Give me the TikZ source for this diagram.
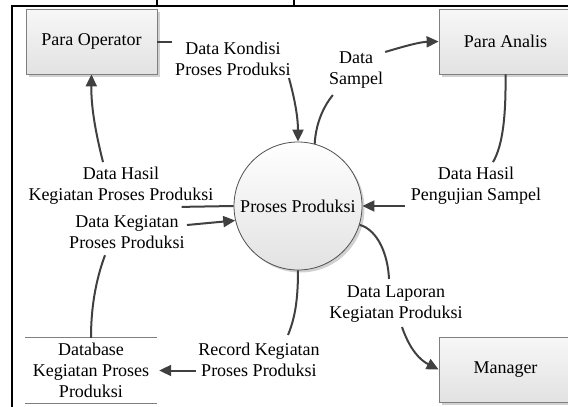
\documentclass[tikz,border=0pt]{standalone}
\usepackage{fontspec}
\setmainfont{Liberation Serif}
\usetikzlibrary{arrows.meta,shadows}

\definecolor{linegray}{HTML}{404040}
\definecolor{boxedge}{HTML}{7F7F7F}
\definecolor{circedge}{HTML}{505050}
\definecolor{boxlight}{HTML}{F7F7F7}
\definecolor{boxdark}{HTML}{E2E2E2}

\begin{document}
\begin{tikzpicture}[x=1pt,y=-1pt,
  font=\fontsize{18}{21}\selectfont,
  flow/.style={draw=linegray, line width=2pt, -{Triangle[length=12pt,width=11pt]}},
  flowline/.style={draw=linegray, line width=2pt},
  shade/.style={drop shadow={shadow xshift=2.5pt, shadow yshift=-2.5pt, fill=black!30, opacity=0.6}},
  entity/.style={draw=boxedge, line width=0.8pt, top color=boxlight, bottom color=boxdark,
    shade, minimum height=65pt, inner sep=0pt},
  process/.style={circle, draw=circedge, line width=0.8pt, top color=white, bottom color=boxdark,
    shade, minimum size=128pt, inner sep=0pt},
  lbl/.style={align=center, inner sep=2pt}]

\useasboundingbox (0,0) rectangle (568,407);

% table frame around the diagram
\draw[line width=2.2pt] (12,407) -- (12,6) -- (570,6);
\draw[line width=2pt] (157,0) -- (157,6);
\draw[line width=2pt] (294,0) -- (294,6);

% external entities, process and data store
\node[entity, minimum width=131pt] (op) at (91.5,41.5) {Para Operator};
\node[entity, minimum width=133pt] (ana) at (505.5,41.5) {Para Analis};
\node[entity, minimum width=133pt] (man) at (505.5,369.5) {Manager};
\node[process] (proc) at (298,206) {Proses Produksi};
\node[align=center, inner sep=0pt, minimum width=132pt, minimum height=65pt] (db) at (91,370.5)
  {Database\\Kegiatan Proses\\Produksi};
\draw[boxedge, line width=1.2pt] (db.north west) -- (db.north east);
\draw[boxedge, line width=1.2pt] (db.south west) -- (db.south east);

% flow labels
\node[lbl] (kond) at (233,59) {Data Kondisi\\Proses Produksi};
\node[lbl] (samp) at (356,70.5) {Data\\Sampel};
\node[lbl] (hasil2) at (476,186) {Data Hasil\\Pengujian Sampel};
\node[lbl] (hasil1) at (121,186) {Data Hasil\\Kegiatan Proses Produksi};
\node[lbl] (keg) at (127,232.5) {Data Kegiatan\\Proses Produksi};
\node[lbl] (rec) at (259,360) {Record Kegiatan\\Proses Produksi};
\node[lbl] (lap) at (396,304.5) {Data Laporan\\Kegiatan Produksi};

% Para Operator -> Proses Produksi
\draw[flowline] (op.east) -- ([xshift=-1pt]kond.west |- op.east);
\draw[flow] ([xshift=-4pt]kond.south east) .. controls (295,100) and (298,118) .. (proc.north);

% Proses Produksi -> Para Analis
\draw[flowline] (proc.75) .. controls (316,122) and (324,106) .. ([xshift=6pt,yshift=-4pt]samp.south west);
\draw[flow] ([yshift=-2pt]samp.north east) .. controls (405,46) and (420,42) .. (ana.west);

% Para Analis -> Proses Produksi
\draw[flowline] (ana.south) .. controls (506,115) and (503,145) .. ([xshift=17pt,yshift=3pt]hasil2.north);
\draw[flow, shorten <=4pt] (hasil2.west |- proc.east) -- (proc.east);

% Proses Produksi -> Para Operator
\draw[flowline] (proc.west) -- ([xshift=-34pt]hasil1.south east);
\draw[flow] ([xshift=-18pt,yshift=3pt]hasil1.north) .. controls (97,138) and (91,110) .. (op.south);

% Database -> Proses Produksi
\draw[flowline] (db.north) .. controls (91,310) and (95,282) .. ([xshift=-22pt,yshift=-4pt]keg.south);
\draw[flow] ([yshift=7.5pt]keg.east) -- (proc.193);

% Proses Produksi -> Database
\draw[flowline] (proc.south) .. controls (298,300) and (295,318) .. ([xshift=29pt,yshift=6pt]rec.north);
\draw[flow, shorten >=2pt] (rec.west |- db.east) -- (db.east);

% Proses Produksi -> Manager
\draw[flowline] (proc.-17) .. controls (378,230) and (388,255) .. ([xshift=-7pt,yshift=5pt]lap.north);
\draw[flow] ([xshift=6pt,yshift=-2pt]lap.south) .. controls (410,350) and (420,360) .. (man.west);

\end{tikzpicture}
\end{document}
